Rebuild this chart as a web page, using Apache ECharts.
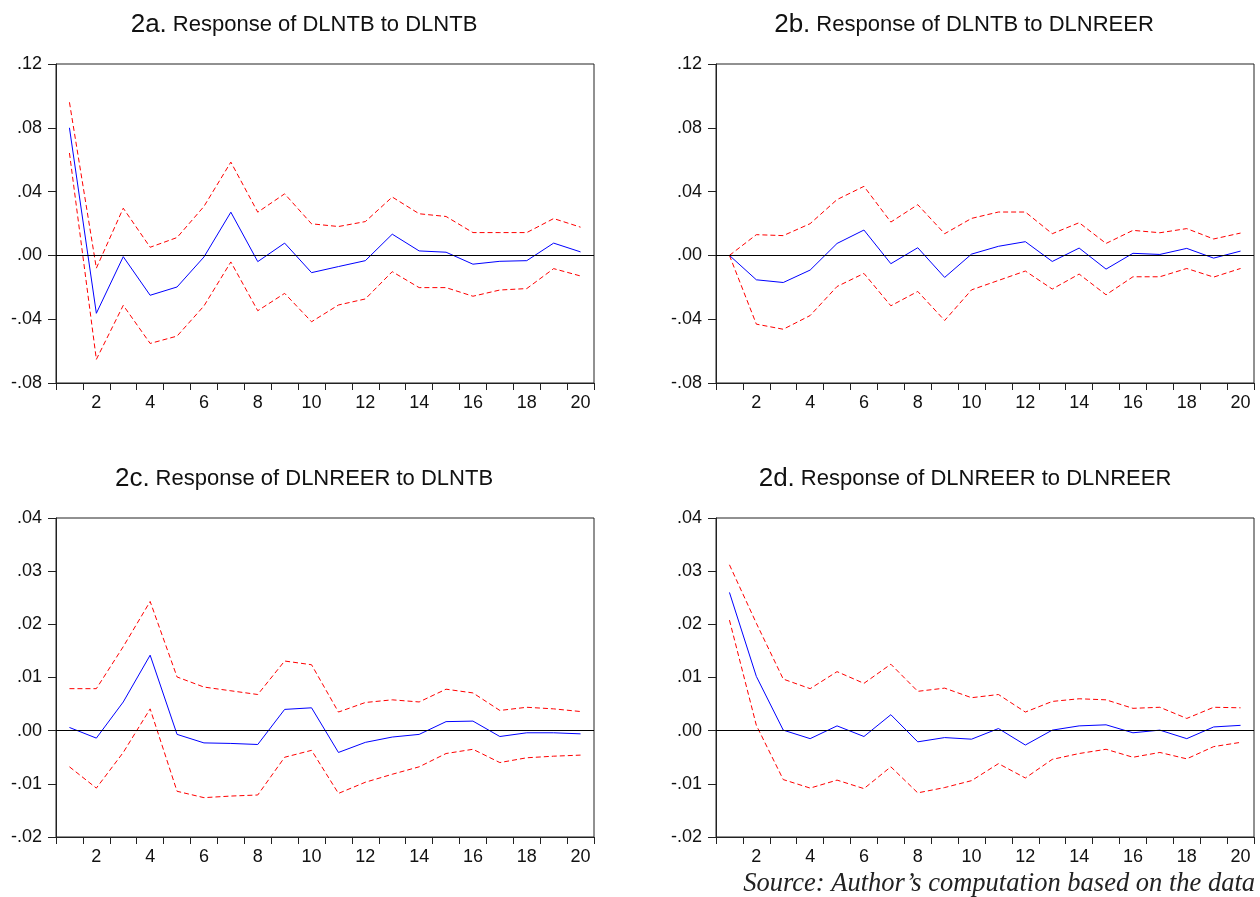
<!DOCTYPE html>
<html>
<head>
<meta charset="utf-8">
<script src="https://cdn.jsdelivr.net/npm/echarts@6/dist/echarts.min.js"></script>
<style>
html,body{margin:0;padding:0;background:#fff;}
#chart{width:1260px;height:897px;}
</style>
</head>
<body>
<div id="chart"></div>
<script>
const periods = ['1','2','3','4','5','6','7','8','9','10','11','12','13','14','15','16','17','18','19','20'];

const a_resp  = [0.080,-0.0363,-0.0008,-0.025,-0.0198,-0.001,0.0271,-0.0039,0.0077,-0.0108,-0.007,-0.0033,0.0133,0.0028,0.002,-0.0055,-0.0037,-0.0033,0.0077,0.0022];
const a_upper = [0.096,-0.008,0.0296,0.0051,0.0112,0.0307,0.0585,0.0271,0.0386,0.0198,0.0181,0.0212,0.0366,0.0261,0.0244,0.0143,0.0143,0.0143,0.0231,0.0177];
const a_lower = [0.0642,-0.0652,-0.0313,-0.0552,-0.0506,-0.0317,-0.0041,-0.0347,-0.0238,-0.0416,-0.0311,-0.0273,-0.0102,-0.0202,-0.0202,-0.0256,-0.0217,-0.0208,-0.0083,-0.0129];

const b_resp  = [0,-0.0153,-0.017,-0.0092,0.0075,0.0159,-0.0052,0.0048,-0.0138,0.0008,0.0057,0.0086,-0.0038,0.0046,-0.0086,0.0013,0.0006,0.0044,-0.0017,0.0027];
const b_upper = [0,0.013,0.0124,0.0199,0.035,0.0433,0.0209,0.0318,0.0136,0.0232,0.0272,0.0272,0.0136,0.0205,0.0075,0.0157,0.0142,0.0168,0.0103,0.014];
const b_lower = [0,-0.0431,-0.0463,-0.0377,-0.0195,-0.0113,-0.0316,-0.0226,-0.0408,-0.0216,-0.0157,-0.0098,-0.0211,-0.0117,-0.0247,-0.0134,-0.0134,-0.0082,-0.0136,-0.0082];

const c_resp  = [0.0006,-0.0014,0.0054,0.0142,-0.0007,-0.0023,-0.0024,-0.0026,0.004,0.0043,-0.0041,-0.0022,-0.0012,-0.0007,0.0017,0.0018,-0.0011,-0.0004,-0.0004,-0.0006];
const c_upper = [0.0079,0.0079,0.0158,0.0243,0.0101,0.0082,0.0075,0.0068,0.0131,0.0124,0.0035,0.0053,0.0058,0.0054,0.0078,0.0071,0.0038,0.0044,0.0041,0.0036];
const c_lower = [-0.0068,-0.0108,-0.0041,0.0041,-0.0114,-0.0126,-0.0123,-0.0121,-0.005,-0.0037,-0.0118,-0.0097,-0.0082,-0.0068,-0.0043,-0.0035,-0.006,-0.0051,-0.0048,-0.0046];

const d_resp  = [0.026,0.0102,0.0001,-0.0015,0.0009,-0.0011,0.003,-0.0021,-0.0013,-0.0016,0.0004,-0.0027,0.0001,0.0009,0.0011,-0.0004,0.0001,-0.0015,0.0007,0.001];
const d_upper = [0.0312,0.0202,0.0097,0.0079,0.0111,0.0089,0.0125,0.0074,0.008,0.0062,0.0068,0.0035,0.0055,0.006,0.0058,0.0042,0.0044,0.0023,0.0044,0.0043];
const d_lower = [0.0208,0.001,-0.0092,-0.0108,-0.0093,-0.0109,-0.0068,-0.0117,-0.0107,-0.0094,-0.0062,-0.0089,-0.0054,-0.0043,-0.0035,-0.005,-0.0041,-0.0053,-0.003,-0.0022];

const panelTags = ['2a.','2b.','2c.','2d.'];
const panelTitles = ['Response of DLNTB to DLNTB','Response of DLNTB to DLNREER','Response of DLNREER to DLNTB','Response of DLNREER to DLNREER'];
const sourceNote = 'Source: Author\u2019s computation based on the data';

const topRange = {min:-0.08, max:0.12, interval:0.04};
const botRange = {min:-0.02, max:0.04, interval:0.01};

const panels = [
  {resp:a_resp, up:a_upper, lo:a_lower, range:topRange, left:56, top:64, titleX:299, titleY:7},
  {resp:b_resp, up:b_upper, lo:b_lower, range:topRange, left:716, top:64, titleX:959, titleY:7},
  {resp:c_resp, up:c_upper, lo:c_lower, range:botRange, left:56, top:518, titleX:299, titleY:461},
  {resp:d_resp, up:d_upper, lo:d_lower, range:botRange, left:716, top:518, titleX:960, titleY:461}
];
const W = 538, H = 319;
const FONT = 'Liberation Sans, Arial, sans-serif';

function fmt(v){
  const s = Math.abs(v) < 1e-9 ? '0.00' : v.toFixed(2);
  return s.replace('0.', '.');
}

const grid = [], xAxis = [], yAxis = [], series = [], title = [];
panels.forEach((p, i) => {
  grid.push({left:p.left, top:p.top, width:W, height:H, show:true, borderColor:'#222', borderWidth:1, backgroundColor:'#fff'});
  xAxis.push({
    type:'category', gridIndex:i, data:periods, boundaryGap:true,
    axisLine:{show:true, onZero:false, lineStyle:{color:'#222', width:1}},
    axisTick:{show:true, interval:0, alignWithLabel:false, length:7, lineStyle:{color:'#222'}},
    axisLabel:{interval:(idx)=>idx % 2 === 1, color:'#111', fontSize:18, fontFamily:FONT, margin:11},
    splitLine:{show:false}
  });
  yAxis.push({
    type:'value', gridIndex:i, min:p.range.min, max:p.range.max, interval:p.range.interval,
    axisLine:{show:true, onZero:false, lineStyle:{color:'#222', width:1}},
    axisTick:{show:true, length:8, lineStyle:{color:'#222'}},
    axisLabel:{formatter:fmt, color:'#111', fontSize:18, fontFamily:FONT, margin:14},
    splitLine:{show:false}
  });
  series.push({
    type:'line', xAxisIndex:i, yAxisIndex:i, data:p.resp, symbol:'none', z:3,
    lineStyle:{color:'#0000ff', width:1},
    markLine:{silent:true, symbol:'none', label:{show:false}, animation:false,
      lineStyle:{color:'#000', width:1, type:'solid'}, data:[{yAxis:0}]}
  });
  series.push({
    type:'line', xAxisIndex:i, yAxisIndex:i, data:p.up, symbol:'none', z:2,
    lineStyle:{color:'#ff0000', width:1, type:[5,3]}
  });
  series.push({
    type:'line', xAxisIndex:i, yAxisIndex:i, data:p.lo, symbol:'none', z:2,
    lineStyle:{color:'#ff0000', width:1, type:[5,3]}
  });
  title.push({
    text:'{t|' + panelTags[i] + '}{s|' + panelTitles[i] + '}',
    left:p.titleX, top:p.titleY, textAlign:'center',
    textStyle:{fontWeight:'normal', rich:{
      t:{fontSize:26, fontWeight:'normal', color:'#111', fontFamily:FONT, padding:[0,6,0,0]},
      s:{fontSize:22, fontWeight:'normal', color:'#111', fontFamily:FONT}
    }}
  });
});

const chart = echarts.init(document.getElementById('chart'), null, {renderer:'canvas'});
chart.setOption({
  animation:false,
  backgroundColor:'#fff',
  title, grid, xAxis, yAxis, series,
  graphic:[{
    type:'text', right:5, top:871,
    style:{text:sourceNote, font:'italic 26.5px "Liberation Serif", "Times New Roman", serif', fill:'#222', textAlign:'right'}
  }]
});
</script>
</body>
</html>
